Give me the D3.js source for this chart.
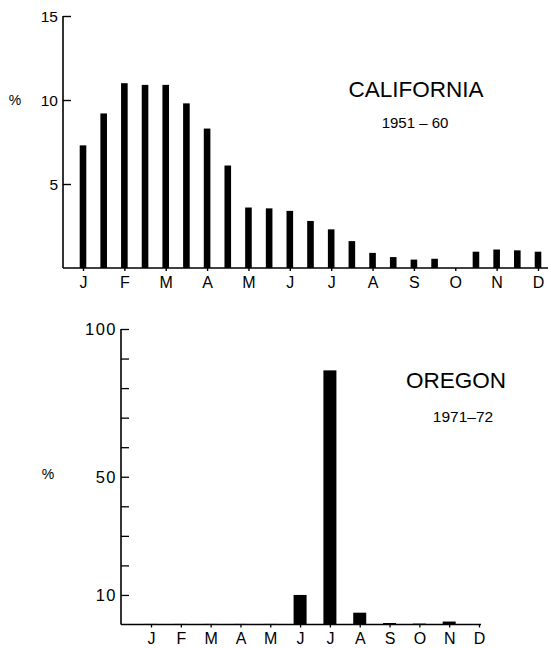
<!DOCTYPE html>
<html>
<head>
<meta charset="utf-8">
<script src="https://cdn.jsdelivr.net/npm/d3@7"></script>
<style>
  html, body { margin: 0; padding: 0; background: #fff; }
  svg { display: block; font-family: "Liberation Sans", Arial, Helvetica, sans-serif; }
</style>
</head>
<body>
<svg id="chart" width="559" height="648"></svg>
<script>
// ---- Data ----
const monthLabels = ["J", "F", "M", "A", "M", "J", "J", "A", "S", "O", "N", "D"];

// California 1951-60: half-month steps, from early January to December (23 positions)
const californiaPositions = [0, 0.5, 1, 1.5, 2, 2.5, 3, 3.5, 4, 4.5, 5, 5.5, 6, 6.5, 7, 7.5, 8, 8.5, 9, 9.5, 10, 10.5, 11];
const californiaValues = [7.3, 9.2, 11.0, 10.9, 10.9, 9.8, 8.3, 6.1, 3.6, 3.55, 3.4, 2.8, 2.3, 1.6, 0.9, 0.65, 0.5, 0.55, 0, 0.97, 1.1, 1.05, 0.97];
const californiaTicks = [5, 10, 15];

// Oregon 1971-72: monthly
const oregonValues = [0.2, 0.2, 0.2, 0.2, 0.2, 10, 86, 4, 0.5, 0.3, 1, 0];
const oregonTickLabels = [10, 50, 100];
const oregonMinorTicks = [10, 20, 30, 40, 50, 60, 70, 80, 90, 100];

const svg = d3.select("#chart");
const ink = "#000";
const FONT = "'Liberation Sans', Arial, Helvetica, sans-serif";

// ---------- TOP: CALIFORNIA ----------
const xTop = d3.scaleLinear().domain([0, 11]).range([83, 538]);
const yTop = d3.scaleLinear().domain([0, 15]).range([268, 16]);
const gTop = svg.append("g");

gTop.selectAll("rect.bar").data(californiaValues.map((v, i) => ({p: californiaPositions[i], v})))
  .join("rect").attr("class", "bar")
  .attr("x", d => xTop(d.p) - 3.3)
  .attr("width", 6.6)
  .attr("y", d => yTop(d.v))
  .attr("height", d => yTop(0) - yTop(d.v))
  .attr("fill", ink);

const yAxisTop = d3.axisRight(yTop).tickValues(californiaTicks).tickSize(8).tickFormat("");
gTop.append("g").attr("transform", `translate(${xTop(0) - 20},0)`).call(yAxisTop)
  .call(g => g.select(".domain").remove())
  .call(g => g.selectAll("line").attr("stroke", ink).attr("stroke-width", 1.4));
gTop.append("line").attr("x1", xTop(0) - 20).attr("x2", xTop(0) - 20)
  .attr("y1", yTop(15)).attr("y2", yTop(0)).attr("stroke", ink).attr("stroke-width", 1.6);
gTop.selectAll("text.ylab").data(californiaTicks).join("text").attr("class", "ylab")
  .attr("x", xTop(0) - 25).attr("y", d => yTop(d)).attr("dy", "0.36em")
  .attr("text-anchor", "end").attr("font-size", 15.5).attr("fill", ink)
  .text(d => d);
gTop.append("text").attr("x", 15).attr("y", yTop(10)).attr("dy", "0.36em")
  .attr("text-anchor", "middle").attr("font-size", 14).attr("fill", ink).text("%");

gTop.append("line").attr("x1", xTop(0) - 20).attr("x2", 548)
  .attr("y1", yTop(0)).attr("y2", yTop(0)).attr("stroke", ink).attr("stroke-width", 1.6);
const xAxisTop = d3.axisBottom(xTop).tickValues(d3.range(12)).tickSize(3).tickFormat(i => monthLabels[i]);
gTop.append("g").attr("transform", `translate(0,${yTop(0)})`).call(xAxisTop)
  .call(g => g.select(".domain").remove())
  .call(g => g.selectAll("line").attr("stroke", ink).attr("stroke-width", 1.4))
  .call(g => g.selectAll("text").attr("font-size", 16).attr("fill", ink).attr("y", 9)
    .attr("font-family", FONT));

gTop.append("text").attr("x", 416).attr("y", 97).attr("text-anchor", "middle")
  .attr("font-size", 22.5).attr("fill", ink).text("CALIFORNIA");
gTop.append("text").attr("x", 415).attr("y", 128).attr("text-anchor", "middle")
  .attr("font-size", 15).attr("fill", ink).text("1951 – 60");

// ---------- BOTTOM: OREGON ----------
const xBot = d3.scaleLinear().domain([0, 11]).range([151, 479]);
const yBot = d3.scaleLinear().domain([0, 100]).range([624.5, 329]);
const gBot = svg.append("g");

gBot.selectAll("rect.bar").data(oregonValues.map((v, i) => ({i, v})))
  .join("rect").attr("class", "bar")
  .attr("x", d => xBot(d.i) - 6.5)
  .attr("width", 13)
  .attr("y", d => yBot(d.v))
  .attr("height", d => yBot(0) - yBot(d.v))
  .attr("fill", ink);

const yAxisBot = d3.axisRight(yBot).tickValues(oregonMinorTicks).tickSize(8).tickFormat("");
gBot.append("g").attr("transform", `translate(121,0)`).call(yAxisBot)
  .call(g => g.select(".domain").remove())
  .call(g => g.selectAll("line").attr("stroke", ink).attr("stroke-width", 1.3));
gBot.append("line").attr("x1", 121).attr("x2", 121)
  .attr("y1", yBot(100)).attr("y2", yBot(0)).attr("stroke", ink).attr("stroke-width", 1.6);
gBot.selectAll("text.ylab").data(oregonTickLabels).join("text").attr("class", "ylab")
  .attr("x", 117).attr("y", d => yBot(d)).attr("dy", "0.36em")
  .attr("text-anchor", "end").attr("font-size", 16.5).attr("letter-spacing", 1.5).attr("fill", ink)
  .text(d => d);
gBot.append("text").attr("x", 48).attr("y", yBot(50) - 3).attr("dy", "0.36em")
  .attr("text-anchor", "middle").attr("font-size", 14).attr("fill", ink).text("%");

gBot.append("line").attr("x1", 121).attr("x2", 481)
  .attr("y1", yBot(0)).attr("y2", yBot(0)).attr("stroke", ink).attr("stroke-width", 1.6);
const xAxisBot = d3.axisBottom(xBot).tickValues(d3.range(12)).tickSize(3).tickFormat(i => monthLabels[i]);
gBot.append("g").attr("transform", `translate(0,${yBot(0)})`).call(xAxisBot)
  .call(g => g.select(".domain").remove())
  .call(g => g.selectAll("line").attr("stroke", ink).attr("stroke-width", 1.3))
  .call(g => g.selectAll("text").attr("font-size", 16).attr("fill", ink).attr("y", 8)
    .attr("font-family", FONT));

gBot.append("text").attr("x", 456).attr("y", 388).attr("text-anchor", "middle")
  .attr("font-size", 22.5).attr("fill", ink).text("OREGON");
gBot.append("text").attr("x", 463).attr("y", 422).attr("text-anchor", "middle")
  .attr("font-size", 15.5).attr("fill", ink).text("1971–72");
</script>
</body>
</html>
